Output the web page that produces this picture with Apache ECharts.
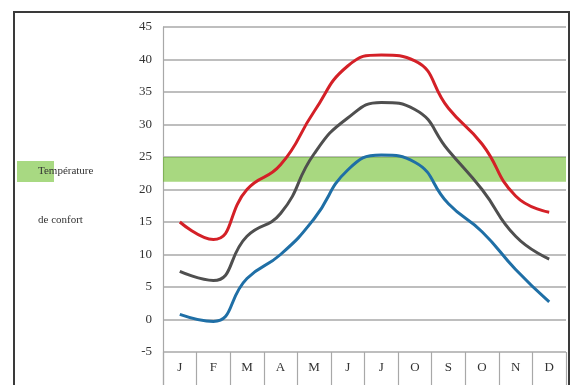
<!DOCTYPE html>
<html>
<head>
<meta charset="utf-8">
<script src="https://cdn.jsdelivr.net/npm/echarts@6/dist/echarts.min.js"></script>
<style>
  html, body { margin: 0; padding: 0; background: #fff; }
  #chart { width: 579px; height: 385px; }
</style>
</head>
<body>
<div id="chart"></div>
<script>
// Month initials (French)
const months = ['J', 'F', 'M', 'A', 'M', 'J', 'J', 'O', 'S', 'O', 'N', 'D'];

// Monthly temperatures (°C)
const tempMax = [15, 12.3, 20, 23.8, 32, 39, 40.7, 39.8, 32.5, 27, 19, 16.5];
const tempMean = [7.4, 6, 12.8, 16.3, 25.5, 31, 33.4, 32.3, 26, 20, 12.8, 9.3];
const tempMin = [0.8, -0.3, 6.3, 10, 15.5, 23, 25.3, 24.2, 17.8, 13.5, 7.7, 2.7];

// Comfort band (°C)
const comfortLow = 21.2;
const comfortHigh = 25;

// Y axis range
const yMin = -5, yMax = 45, yStep = 5;

const serif = '"Liberation Serif", "DejaVu Serif", serif';

const chart = echarts.init(document.getElementById('chart'), null, { renderer: 'canvas' });

function lineSeries(name, data, color) {
  return {
    name: name,
    type: 'line',
    data: data,
    xAxisIndex: 0,
    yAxisIndex: 0,
    smooth: 0.5,
    symbol: 'none',
    z: 3,
    lineStyle: { color: color, width: 3 }
  };
}

chart.setOption({
  animation: false,
  graphic: [
    // outer frame
    {
      type: 'rect',
      shape: { x: 14, y: 12, width: 555, height: 385 },
      style: { fill: 'none', stroke: '#3a3a3a', lineWidth: 2 },
      z: 10
    },
    // legend swatch
    {
      type: 'rect',
      shape: { x: 17, y: 161, width: 37, height: 21 },
      style: { fill: '#a8d982' },
      z: 1
    },
    {
      type: 'text',
      left: 38, top: 166,
      style: { text: 'Température', font: '11px ' + serif, fill: '#333' },
      z: 2
    },
    {
      type: 'text',
      left: 38, top: 215,
      style: { text: 'de confort', font: '11px ' + serif, fill: '#333' },
      z: 2
    }
  ],
  grid: [
    { left: 163, right: 13, top: 27, bottom: 33 },
    { left: 163, right: 13, top: 352, height: 40 }
  ],
  xAxis: [
    {
      gridIndex: 0,
      type: 'category',
      data: months,
      boundaryGap: true,
      show: false
    },
    {
      gridIndex: 1,
      type: 'category',
      data: months,
      boundaryGap: true,
      position: 'top',
      axisLine: { show: false },
      axisTick: { show: false },
      splitLine: { show: true, interval: 0, lineStyle: { color: '#a8a8a8', width: 1.2 } },
      axisLabel: {
        inside: true,
        interval: 0,
        margin: 9,
        fontFamily: serif,
        fontSize: 13,
        color: '#333'
      }
    }
  ],
  yAxis: [
    {
      gridIndex: 0,
      type: 'value',
      min: yMin,
      max: yMax,
      interval: yStep,
      axisLine: { show: true, lineStyle: { color: '#a8a8a8', width: 1.2 } },
      axisTick: { show: false },
      splitLine: { show: true, lineStyle: { color: '#a8a8a8', width: 1.5 } },
      axisLabel: {
        margin: 11,
        fontFamily: serif,
        fontSize: 13,
        color: '#333'
      }
    },
    {
      gridIndex: 1,
      type: 'value',
      min: 0,
      max: 1,
      axisLine: { show: true, lineStyle: { color: '#a8a8a8', width: 1.2 } },
      axisTick: { show: false },
      axisLabel: { show: false },
      splitLine: { show: false }
    }
  ],
  series: [
    lineSeries('max', tempMax, '#d42027'),
    lineSeries('moyenne', tempMean, '#4f4f4f'),
    lineSeries('min', tempMin, '#1f6fa6'),
    {
      name: 'confort',
      type: 'line',
      data: [],
      xAxisIndex: 0,
      yAxisIndex: 0,
      z: 4,
      markArea: {
        silent: true,
        itemStyle: { color: '#61b818', opacity: 0.55 },
        data: [[{ yAxis: comfortLow }, { yAxis: comfortHigh }]]
      }
    }
  ]
});
</script>
</body>
</html>
